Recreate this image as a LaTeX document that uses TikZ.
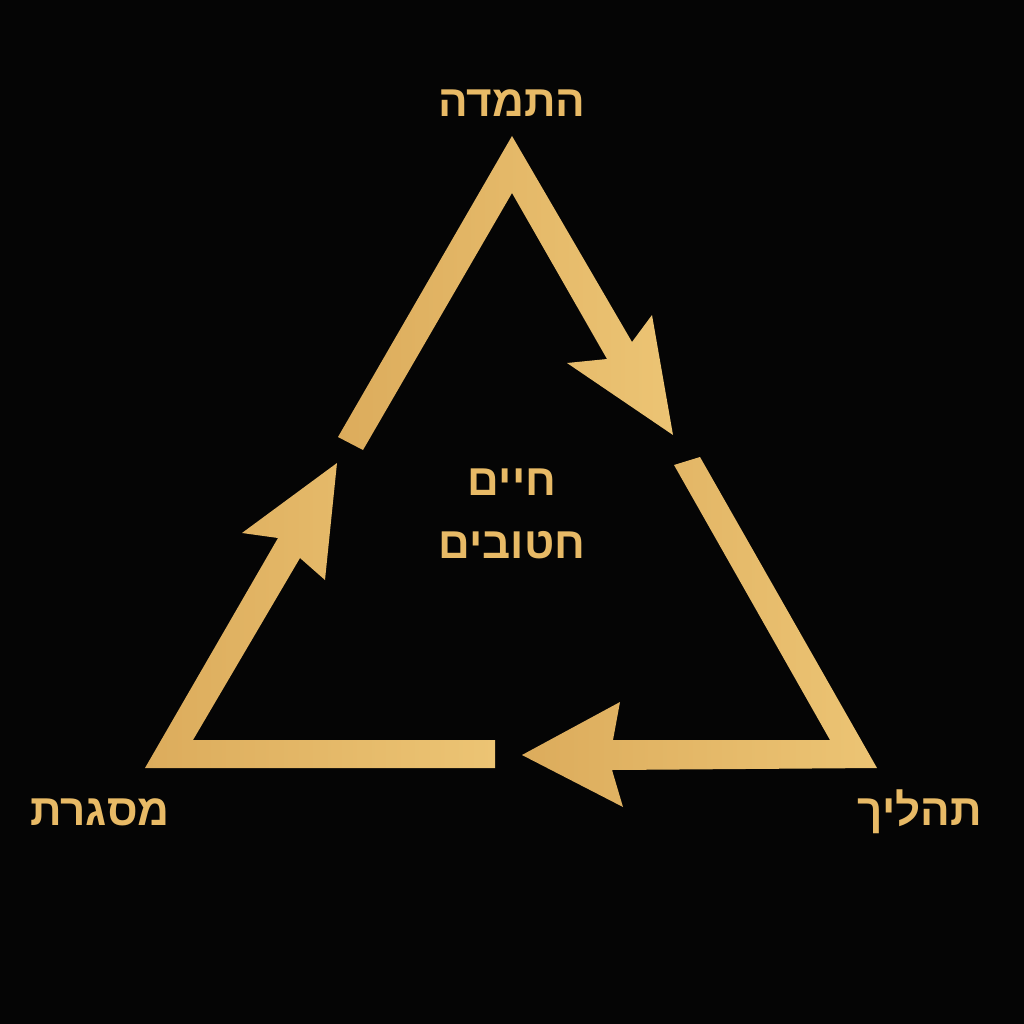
\documentclass[tikz,border=0pt]{standalone}
\usepackage{fontspec}
\setmainfont{Liberation Sans}
\newfontfamily\hebfont[Script=Hebrew]{Liberation Sans}
\TeXXeTstate=1
\definecolor{bgblack}{RGB}{5,5,5}
\definecolor{goldlight}{RGB}{236,196,116}
\definecolor{golddark}{RGB}{220,172,92}
\definecolor{goldtext}{RGB}{232,186,102}
\begin{document}
\begin{tikzpicture}[x=1pt,y=-1pt,
  goldshape/.style={left color=golddark,right color=goldlight,draw=none},
  hlabel/.style={text=goldtext,font=\hebfont\bfseries\fontsize{44}{50}\selectfont,inner sep=0pt,align=center}]
\fill[bgblack] (0,0) rectangle (1024,1024);
\useasboundingbox (0,0) rectangle (1024,1024);
% top arrow (apex, pointing down-right)
\shade[goldshape] (338,437) -- (512,136) -- (632,342) -- (652,315) -- (673,435)
  -- (567,363) -- (607,359) -- (512,193) -- (363,450) -- cycle;
% right/bottom arrow (pointing left)
\shade[goldshape] (700,457) -- (877,768) -- (612,770) -- (623,807) -- (522,755)
  -- (620,702) -- (613,740) -- (830,740) -- (674,465) -- cycle;
% left arrow (pointing up-right)
\shade[goldshape] (495,740) -- (193,740) -- (300,558) -- (325,580) -- (337,463)
  -- (242,533) -- (278,538) -- (145,768) -- (495,768) -- cycle;
% labels
\node[hlabel] (top) at (512,103) {\beginR התמדה\endR};
\node[hlabel] (right) at (920,812) {\beginR תהליך\endR};
\node[hlabel] (left) at (100,812) {\beginR מסגרת\endR};
\node[hlabel] (c1) at (512,482) {\beginR חיים\endR};
\node[hlabel] (c2) at (512,545) {\beginR חטובים\endR};
\end{tikzpicture}
\end{document}
